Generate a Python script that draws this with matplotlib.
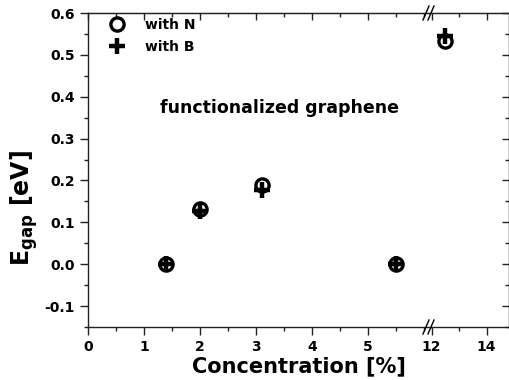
import matplotlib
matplotlib.use("Agg")
import matplotlib.pyplot as plt
from matplotlib.ticker import MultipleLocator, FixedLocator
from matplotlib.transforms import Affine2D

plt.rcParams['font.family'] = ['DejaVu Sans']
plt.rcParams['font.weight'] = 'bold'
plt.rcParams['mathtext.default'] = 'bf'

conc = [1.4, 2.0, 3.1, 5.5, 12.5]
gap_N = [0.0, 0.133, 0.188, 0.0, 0.534]
gap_B = [0.0, 0.126, 0.177, 0.0, 0.545]

fig = plt.figure(figsize=(5.1, 3.8), dpi=100)
W, H = 510, 380
x0, xb, x1 = 88, 431, 509
ytop, ybot = 13, 327
axL = fig.add_axes([x0 / W, (H - ybot) / H, (xb - x0) / W, (ybot - ytop) / H])
axR = fig.add_axes([xb / W, (H - ybot) / H, (x1 - xb) / W, (ybot - ytop) / H])

for ax in (axL, axR):
    ax.plot(conc, gap_N, linestyle='none', marker='o', ms=9.5, mfc='none',
            mec='black', mew=2.4, label='with N')
    ax.plot(conc, gap_B, linestyle='none', marker='+', ms=12, mec='black',
            mew=3.2, label='with B')
    ax.set_ylim(-0.15, 0.6)
    for s in ax.spines.values():
        s.set_linewidth(1.0)
        s.set_color('#222222')

axL.set_xlim(0, (xb - x0) / 56.0)
axR.set_xlim(11.98, 11.98 + (x1 - xb) / 27.5)

TS = 10
axL.xaxis.set_major_locator(FixedLocator([0, 1, 2, 3, 4, 5]))
axL.xaxis.set_minor_locator(MultipleLocator(0.5))
axL.set_yticks([-0.1, 0.0, 0.1, 0.2, 0.3, 0.4, 0.5, 0.6])
axL.set_yticklabels(['-0.1', '0.0', '0.1', '0.2', '0.3', '0.4', '0.5', '0.6'])
axL.yaxis.set_minor_locator(MultipleLocator(0.05))
axL.tick_params(which='both', direction='out', labelsize=TS, width=1, color='#222222')
axL.tick_params(which='major', length=6)
axL.tick_params(which='minor', length=3)
axL.spines['right'].set_visible(False)

axR.xaxis.set_major_locator(FixedLocator([12, 14]))
axR.xaxis.set_minor_locator(FixedLocator([13]))
axR.yaxis.set_major_locator(MultipleLocator(0.1))
axR.yaxis.set_minor_locator(MultipleLocator(0.05))
axR.tick_params(axis='x', which='both', direction='out', labelsize=TS, width=1, color='#222222')
axR.tick_params(axis='x', which='major', length=6)
axR.tick_params(axis='x', which='minor', length=3)
axR.tick_params(axis='y', which='both', left=False, labelleft=False, right=True,
                direction='in', width=1, color='#222222')
axR.tick_params(axis='y', which='major', length=5)
axR.tick_params(axis='y', which='minor', length=3)
axR.spines['left'].set_visible(False)

for ax, maj, mnr in ((axL, [0, 1, 2, 3, 4, 5], MultipleLocator(0.5)),
                     (axR, [12, 14], FixedLocator([13]))):
    sec = ax.secondary_xaxis('top')
    sec.xaxis.set_major_locator(FixedLocator(maj))
    sec.xaxis.set_minor_locator(mnr)
    sec.tick_params(which='both', direction='in', labeltop=False, width=1, color='#222222')
    sec.tick_params(which='major', length=5)
    sec.tick_params(which='minor', length=3)
    sec.spines['top'].set_color('#222222')

for lab in axL.get_xticklabels() + axL.get_yticklabels() + axR.get_xticklabels():
    lab.set_fontweight('bold')

# break marks
for yy in (ytop, ybot):
    for dx in (-5, 0):
        fig.add_artist(plt.Line2D([(xb + dx - 3) / W, (xb + dx + 3) / W],
                                  [(H - yy - 7) / H, (H - yy + 7) / H],
                                  color='black', lw=1.0))

pix = Affine2D().scale(1.0 / W, 1.0 / H) + fig.transFigure
leg = axL.legend(loc='upper left', bbox_to_anchor=(108.7, H - 18), bbox_transform=pix,
                 frameon=False, prop={'weight': 'bold', 'size': 10},
                 handlelength=1.2, handletextpad=1.4, labelspacing=0.58,
                 borderpad=0.0, borderaxespad=0.0, numpoints=1)

fig.text(280 / W, (H - 108) / H, 'functionalized graphene', ha='center',
         va='center', fontsize=12.5, fontweight='bold')
fig.text(299 / W, (H - 366) / H, 'Concentration [%]', ha='center',
         va='center', fontsize=15, fontweight='bold')
fig.text(24 / W, (H - 208) / H, r'E$_{\mathbf{gap}}$ [eV]', ha='center', va='center',
         rotation=90, fontsize=17, fontweight='bold')

fig.savefig('out.png', dpi=100)
